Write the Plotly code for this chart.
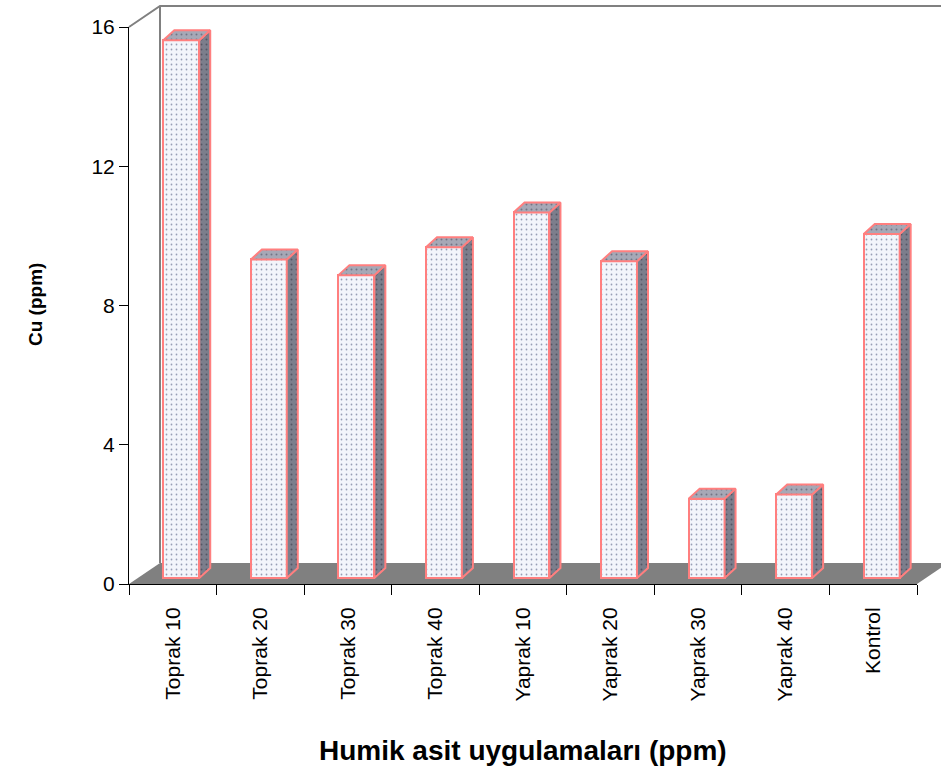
import plotly.graph_objects as go

# Cu content by humic acid application
categories = ["Toprak 10", "Toprak 20", "Toprak 30", "Toprak 40",
              "Yaprak 10", "Yaprak 20", "Yaprak 30", "Yaprak 40", "Kontrol"]
cu_ppm = [15.45, 9.15, 8.70, 9.50, 10.50, 9.10, 2.28, 2.40, 9.88]
y_ticks = [0, 4, 8, 12, 16]

W, H = 941, 772
L, R, T, B = 129, 24, 27, 188
plot_w = W - L - R
plot_h = H - T - B
n = len(categories)
y_max = 16
px_x = plot_w / n          # pixels per category
px_y = plot_h / y_max      # pixels per ppm

# oblique depth of the box (side wall / floor), in data units
depth_x = 31 / px_x
depth_y = 21 / px_y
# the bar row stands part way into the box
bar_shift_x = 8.5 / px_x
bar_shift_y = 6 / px_y
# bar front width and 3-D thickness
bar_w = 0.41
bar_dx = 11 / px_x
bar_dy = 10 / px_y

centers = [i + 0.5 for i in range(n)]

FONT = "Arial, Liberation Sans, sans-serif"
EDGE = "#ff7f7f"
WALL = "#808080"


def fx(v):
    return v / n


def fy(v):
    return v / y_max


# side and top faces of every bar, as closed polygons
side_x, side_y, top_x, top_y = [], [], [], []
for c, v in zip(centers, cu_ppm):
    r = c + bar_w / 2
    l = c - bar_w / 2
    side_x += [r, r + bar_dx, r + bar_dx, r, r, None]
    side_y += [0, bar_dy, v + bar_dy, v, 0, None]
    top_x += [l, r, r + bar_dx, l + bar_dx, l, None]
    top_y += [v, v, v + bar_dy, v + bar_dy, v, None]

fig = go.Figure()

# anchor trace for the front (axis) plane
fig.add_trace(go.Scatter(x=centers, y=[0] * n, mode="markers",
                         marker=dict(opacity=0), hoverinfo="skip", showlegend=False))

fig.add_trace(go.Bar(
    x=centers, y=cu_ppm, width=bar_w, xaxis="x2", yaxis="y2",
    marker=dict(color="#f3f5fb",
                pattern=dict(shape=".", fgcolor="#3c4670", bgcolor="#f3f5fb",
                             size=5, solidity=0.1),
                line=dict(color=EDGE, width=2)),
    hoverinfo="skip", showlegend=False,
))
fig.add_trace(go.Scatter(
    x=side_x, y=side_y, xaxis="x2", yaxis="y2", mode="lines",
    fill="toself", fillcolor="#7c7e8c",
    fillpattern=dict(shape=".", fgcolor="#2c2e3c", bgcolor="#7c7e8c",
                     size=5, solidity=0.12),
    line=dict(color=EDGE, width=2), hoverinfo="skip", showlegend=False,
))
fig.add_trace(go.Scatter(
    x=top_x, y=top_y, xaxis="x2", yaxis="y2", mode="lines",
    fill="toself", fillcolor="#a6a8b6",
    fillpattern=dict(shape=".", fgcolor="#3e4052", bgcolor="#a6a8b6",
                     size=5, solidity=0.12),
    line=dict(color=EDGE, width=2), hoverinfo="skip", showlegend=False,
))

shapes = [
    # floor
    dict(type="path", xref="x domain", yref="y domain", layer="below",
         path=f"M {fx(0)},{fy(0)} L {fx(n)},{fy(0)} "
              f"L {fx(n + depth_x)},{fy(depth_y)} L {fx(depth_x)},{fy(depth_y)} Z",
         fillcolor=WALL, line=dict(width=0)),
    # wall edges
    dict(type="path", xref="x domain", yref="y domain", layer="below",
         path=f"M {fx(0)},{fy(y_max)} L {fx(depth_x)},{fy(y_max + depth_y)} "
              f"L {fx(n + depth_x)},{fy(y_max + depth_y)}",
         line=dict(color=WALL, width=2)),
    dict(type="line", xref="x domain", yref="y domain", layer="below",
         x0=fx(depth_x), x1=fx(depth_x), y0=fy(depth_y), y1=fy(y_max + depth_y),
         line=dict(color=WALL, width=2)),
]

annotations = [
    dict(text="<b>Cu (ppm)</b>", xref="paper", yref="paper",
         x=(35 - L) / plot_w, y=(H - B - 305) / plot_h, textangle=-90,
         showarrow=False, font=dict(family=FONT, size=19, color="black"),
         xanchor="center", yanchor="middle"),
    dict(text="<b>Humik asit uygulamaları (ppm)</b>", xref="paper", yref="paper",
         x=0.5, y=(H - B - 750) / plot_h, showarrow=False,
         font=dict(family=FONT, size=28, color="black"),
         xanchor="center", yanchor="middle"),
]

fig.update_layout(
    width=W, height=H,
    margin=dict(l=L, r=R, t=T, b=B, autoexpand=False),
    paper_bgcolor="white", plot_bgcolor="rgba(0,0,0,0)",
    font=dict(family=FONT, color="black"),
    bargap=0, showlegend=False,
    xaxis=dict(range=[0, n], tickmode="array", tickvals=centers, ticktext=categories,
               tickangle=-90, ticks="", showline=True, linecolor="black", linewidth=1,
               showgrid=False, zeroline=False, tickfont=dict(size=21),
               ticklabelstandoff=14,
               minor=dict(tickmode="array", tickvals=list(range(n + 1)), ticks="outside",
                          ticklen=10, tickwidth=1, tickcolor="black", showgrid=False)),
    yaxis=dict(range=[0, y_max], tickmode="array", tickvals=y_ticks, ticks="outside",
               ticklen=9, tickwidth=1, tickcolor="black", showline=True,
               linecolor="black", linewidth=1, showgrid=False, zeroline=False,
               tickfont=dict(size=21)),
    xaxis2=dict(overlaying="x", anchor="y2", range=[-bar_shift_x, n - bar_shift_x],
                visible=False),
    yaxis2=dict(overlaying="y", anchor="x2", range=[-bar_shift_y, y_max - bar_shift_y],
                visible=False),
    shapes=shapes, annotations=annotations,
)

fig.write_html("out.html")
